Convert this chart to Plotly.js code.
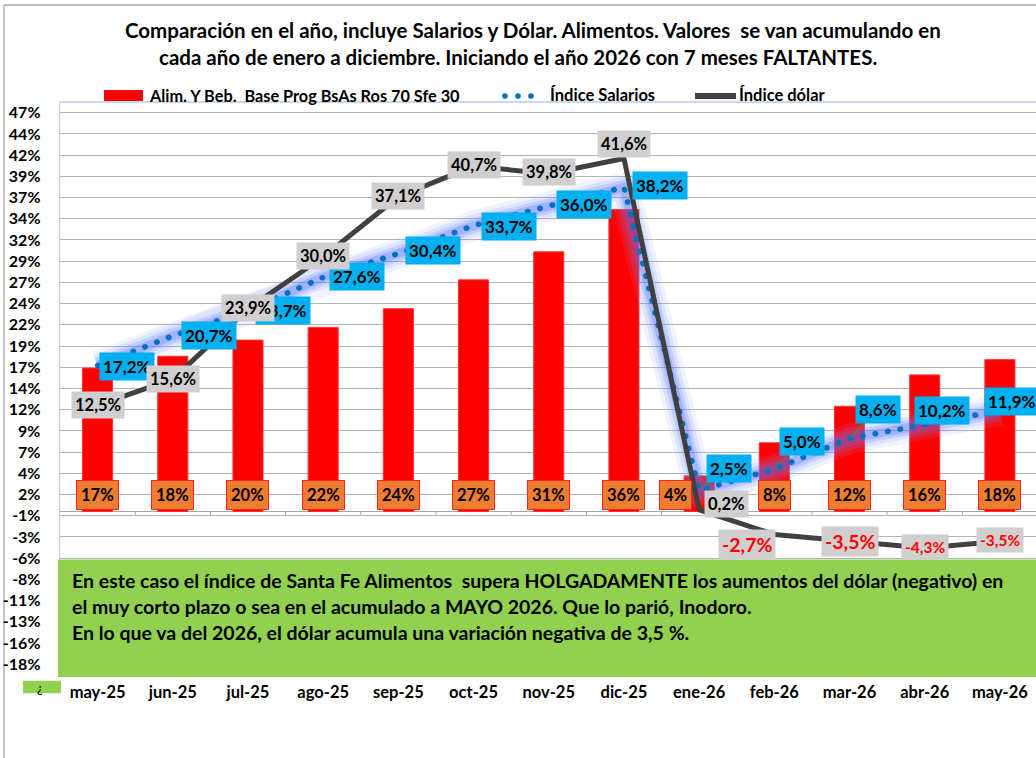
<!DOCTYPE html>
<html><head><meta charset="utf-8">
<script src="https://cdn.plot.ly/plotly-3.0.1.min.js"></script>
<style>html,body{margin:0;padding:0;background:#fff;overflow:hidden}</style>
</head><body><div id="chart" style="width:1036px;height:758px"></div>
<script>
// ---- data ----
const categories = ['may-25','jun-25','jul-25','ago-25','sep-25','oct-25','nov-25','dic-25','ene-26','feb-26','mar-26','abr-26','may-26'];
const alimentos = [0.169, 0.183, 0.202, 0.217, 0.239, 0.273, 0.306, 0.356, 0.042, 0.081, 0.124, 0.161, 0.179];
const salarios  = [0.172, 0.207, 0.237, 0.276, 0.304, 0.337, 0.360, 0.382, 0.025, 0.050, 0.086, 0.102, 0.119];
const dolar     = [0.125, 0.156, 0.239, 0.300, 0.371, 0.407, 0.398, 0.416, 0.002, -0.027, -0.035, -0.043, -0.035];
const yTickVals = [-0.18,-0.155,-0.13,-0.105,-0.08,-0.055,-0.03,-0.005,0.02,0.045,0.07,0.095,0.12,0.145,0.17,0.195,0.22,0.245,0.27,0.295,0.32,0.345,0.37,0.395,0.42,0.445,0.47];
const yTickText = ['-18%','-16%','-13%','-11%','-8%','-6%','-3%','-1%','2%','4%','7%','9%','12%','14%','17%','19%','22%','24%','27%','29%','32%','34%','37%','39%','42%','44%','47%'];
const seriesNames = ['Alim. Y Beb.\u00a0 Base Prog BsAs Ros 70 Sfe 30', 'Índice Salarios', 'Índice dólar'];
const titleLines = ['Comparación en el año, incluye Salarios y Dólar. Alimentos. Valores\u00a0 se van acumulando en',
                    'cada año de enero a diciembre. Iniciando el año 2026 con 7 meses FALTANTES.'];
const noteLines = ['En este caso el índice de Santa Fe Alimentos\u00a0 supera HOLGADAMENTE los aumentos del dólar (negativo) en',
                   'el muy corto plazo o sea en el acumulado a MAYO 2026. Que lo parió, Inodoro.',
                   'En lo que va del 2026, el dólar acumula una variación negativa de 3,5 %.'];

// ---- label placement (styling only) ----
const salOffX = [29,36,35,34,35,35,35,36,30,28,28,17,12];
const salOffY = [-1,0,0,1,3,-1,2,2,22,28,29,14,9];
const salArrow = [0,0,0,0,0,0,0,0,1,1,1,0,0];
const dolOffX = [0,0,0,0,0,0,0,0,27,-27,0,0,0];
const dolOffY = [0,0,1,1,1,1,2,15,6,-10,0,1,1];
const dolSize = [16.5,16.5,16.5,16.5,16.5,16.5,16.5,16.5,16.5,19.5,19.5,15.5,15.5];
const barOffX = [0,0,0,0,0,0,0,0,-24,0,0,0,0];

const FONT = 'Lato, "Open Sans", sans-serif';
const X = px => (px-60)/976;
const Y = py => (677-py)/575;
const pct1 = v => (v*100).toFixed(1).replace('.',',') + '%';
const pct0 = v => Math.round(v*100) + '%';

const traces = [
  {type:'bar', x:categories, y:alimentos, width:0.4, name:seriesNames[0],
   marker:{color:'#FF0000', line:{color:'#FF3030', width:1}}, hoverinfo:'skip'},
  {type:'scatter', mode:'lines', x:categories, y:salarios, line:{color:'rgba(130,160,255,0.12)', width:30}, hoverinfo:'skip'},
  {type:'scatter', mode:'lines', x:categories, y:salarios, line:{color:'rgba(110,140,255,0.16)', width:22}, hoverinfo:'skip'},
  {type:'scatter', mode:'lines', x:categories, y:salarios, line:{color:'rgba(90,120,255,0.2)', width:15}, hoverinfo:'skip'},
  {type:'scatter', mode:'lines', x:categories, y:salarios, line:{color:'rgba(70,100,255,0.25)', width:9}, hoverinfo:'skip'},
  {type:'scatter', mode:'lines', x:categories, y:salarios, name:seriesNames[1], line:{color:'#0070C0', width:5.5, dash:'0.5px,12.2px'}, hoverinfo:'skip'},
  {type:'scatter', mode:'lines', x:categories, y:dolar, name:seriesNames[2], line:{color:'#404040', width:5}, hoverinfo:'skip'}
];

const annotations = [];
const shapes = [];
const txt = (px, py, text, size, anchor, extra) => Object.assign({xref:'paper', yref:'paper', x:X(px), y:Y(py), xanchor:anchor, yanchor:'middle',
  text:text, showarrow:false, font:{family:FONT, size:size, weight:'bold', color:'#000'}}, extra||{});

// outer border
shapes.push({type:'line', xref:'paper', yref:'paper', x0:X(4), x1:X(1040), y0:Y(5), y1:Y(5), line:{color:'#A6A6A6', width:1.3}, layer:'below'});
shapes.push({type:'line', xref:'paper', yref:'paper', x0:X(4), x1:X(4), y0:Y(5), y1:Y(760), line:{color:'#A6A6A6', width:1.3}, layer:'below'});
// plot area top border
shapes.push({type:'line', xref:'paper', yref:'paper', x0:0, x1:1.01, y0:1, y1:1, line:{color:'#B4CCE6', width:1.3}, layer:'below'});
// category boundary ticks on zero axis
for (let i=0;i<categories.length;i++){
  shapes.push({type:'line', xref:'x', yref:'y', x0:i+0.5, x1:i+0.5, y0:0, y1:-0.005, line:{color:'#A6A6A6', width:1}, layer:'below'});
}
// green note box
shapes.push({type:'rect', xref:'paper', yref:'paper', x0:X(58), x1:X(1040), y0:Y(677), y1:Y(559.5), fillcolor:'#92D050', line:{width:0}, layer:'above'});
// small green box with ¿
shapes.push({type:'rect', xref:'paper', yref:'paper', x0:X(23), x1:X(61), y0:Y(693.3), y1:Y(680.7), fillcolor:'#92D050', line:{width:0}});
annotations.push(txt(40, 688, '¿', 13, 'center', {font:{family:FONT, size:13, color:'#000'}}));

// legend (manual)
shapes.push({type:'rect', xref:'paper', yref:'paper', x0:X(104), x1:X(143), y0:Y(101), y1:Y(90), fillcolor:'#FF0000', line:{width:0}});
annotations.push(txt(147, 95.5, seriesNames[0], 16.3, 'left'));
[505,518,531].forEach(cx=>shapes.push({type:'circle', xref:'paper', yref:'paper', x0:X(cx-2.8), x1:X(cx+2.8), y0:Y(96+2.8), y1:Y(96-2.8), fillcolor:'#0070C0', line:{width:0}}));
annotations.push(txt(548, 95.5, seriesNames[1], 16.5, 'left'));
shapes.push({type:'line', xref:'paper', yref:'paper', x0:X(695), x1:X(736), y0:Y(96), y1:Y(96), line:{color:'#404040', width:6}});
annotations.push(txt(737, 95.5, seriesNames[2], 16.5, 'left'));

// title
annotations.push(txt(533, 30, titleLines[0], 20.5, 'center'));
annotations.push(txt(518, 57, titleLines[1], 20.5, 'center'));

// note text
noteLines.forEach((t,k)=>annotations.push(txt(70, 580+26*k, t, 19.5, 'left')));

// bar labels
alimentos.forEach((v,i)=>annotations.push({x:categories[i], y:0, yshift:17, xshift:barOffX[i], text:pct0(v), showarrow:false,
  bgcolor:'#ED7D31', bordercolor:'#FF2020', borderwidth:1, borderpad:4, font:{family:FONT, size:16.5, weight:'bold', color:'#000'}}));

// salary labels
salarios.forEach((v,i)=>{
  const a = {x:categories[i], y:v, text:pct1(v), bgcolor:'#00B0F0', borderpad:3, font:{family:FONT, size:17, weight:'bold', color:'#000'}};
  if (salArrow[i]) { Object.assign(a, {showarrow:true, ax:salOffX[i], ay:-salOffY[i], arrowhead:0, arrowwidth:1, arrowcolor:'#00B050', standoff:0}); }
  else { Object.assign(a, {showarrow:false, xshift:salOffX[i], yshift:salOffY[i]}); }
  annotations.push(a);
});

// dollar labels
dolar.forEach((v,i)=>annotations.push({x:categories[i], y:v, xshift:dolOffX[i], yshift:dolOffY[i], text:pct1(v), showarrow:false,
  bgcolor:'#D0CECE', borderpad:3, font:{family:FONT, size:dolSize[i], weight:'bold', color: v<0 ? '#FF0000' : '#000'}}));

const layout = {
  width:1036, height:758, margin:{l:60, r:0, t:102, b:81},
  paper_bgcolor:'#fff', plot_bgcolor:'#fff', showlegend:false, hovermode:false,
  bargap:0.6,
  xaxis:{type:'category', range:[-0.5, 12.48], showgrid:false, zeroline:false, showline:false, ticks:'',
         tickfont:{family:FONT, size:16.5, weight:'bold', color:'#000'}, ticklabelstandoff:3, fixedrange:true},
  yaxis:{range:[-0.195, 0.4826], tickvals:yTickVals, ticktext:yTickText, showgrid:true, gridcolor:'#B4B4B4', gridwidth:1,
         zeroline:true, zerolinecolor:'#A6A6A6', zerolinewidth:1.3, showline:true, linecolor:'#B4CCE6', linewidth:1.3, ticks:'',
         tickfont:{family:FONT, size:16, weight:'bold', color:'#000'}, ticklabelstandoff:15, fixedrange:true},
  shapes:shapes, annotations:annotations, font:{family:FONT}
};

Plotly.newPlot('chart', traces, layout, {displayModeBar:false, staticPlot:true}).then(()=>{
  const tr = document.querySelectorAll('.scatterlayer .trace');
  if (tr[4]) tr[4].querySelectorAll('path.js-line').forEach(p=>p.style.strokeLinecap='round');
  if (tr[5]) tr[5].querySelectorAll('path.js-line').forEach(p=>p.style.strokeLinejoin='round');
});
</script></body></html>
